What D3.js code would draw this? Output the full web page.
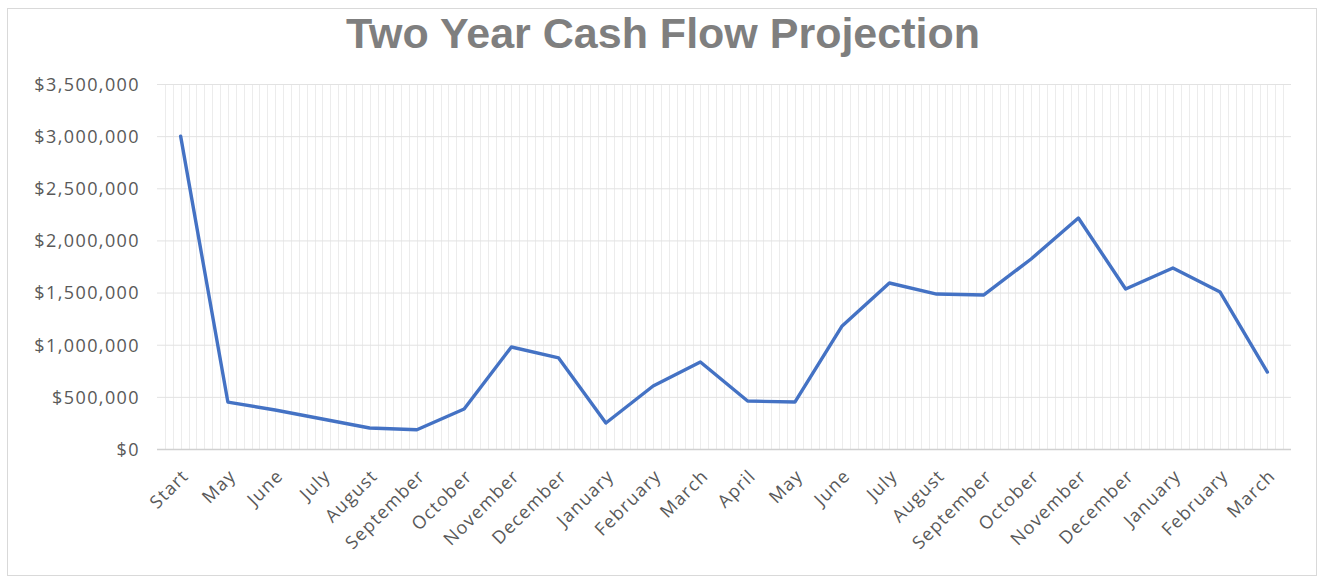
<!DOCTYPE html>
<html>
<head>
<meta charset="utf-8">
<script src="https://cdn.jsdelivr.net/npm/d3@7"></script>
<style>
  html, body { margin: 0; padding: 0; background: #fff; }
  svg { display: block; }
</style>
</head>
<body>
<svg id="chart" width="1321" height="578"></svg>
<script>
// Period labels along the horizontal axis
const periods = ["Start", "May", "June", "July", "August", "September", "October", "November",
  "December", "January", "February", "March", "April", "May", "June", "July", "August",
  "September", "October", "November", "December", "January", "February", "March"];

// Projected cash balance for each period
const cashBalance = [3000000, 450000, 374000, 288000, 201000, 185000, 384000, 978000,
  873000, 249000, 604000, 834000, 460000, 450000, 1180000, 1592000, 1486000,
  1477000, 1822000, 2215000, 1534000, 1736000, 1505000, 738000];

// Value axis tick values
const yTicks = [0, 500000, 1000000, 1500000, 2000000, 2500000, 3000000, 3500000];

const W = 1321, H = 578;
const plot = { left: 157, right: 1291, top: 84, bottom: 449 };
const labelFont = "Open Sans, sans-serif";

const svg = d3.select("#chart");

// Chart area frame
svg.append("rect")
  .attr("x", 7.5).attr("y", 8.5)
  .attr("width", 1309).attr("height", 567)
  .attr("fill", "#fff").attr("stroke", "#d9d9d9").attr("stroke-width", 1);

// Title
svg.append("text")
  .attr("x", 663).attr("y", 48)
  .attr("text-anchor", "middle")
  .attr("font-family", "Liberation Sans, Arial, sans-serif")
  .attr("font-weight", "bold")
  .attr("font-size", 43)
  .attr("fill", "#7f7f7f")
  .text("Two Year Cash Flow Projection");

const idx = d3.range(periods.length);
const x = d3.scaleBand().domain(idx).range([plot.left, plot.right]);
const xc = i => x(i) + x.bandwidth() / 2;
const y = d3.scaleLinear().domain([0, 3500000]).range([plot.bottom, plot.top]);

// Minor vertical gridlines (six per category)
const minor = d3.range(0, periods.length * 6 + 1).map(k => plot.left + k * x.bandwidth() / 6);
svg.append("g")
  .selectAll("line")
  .data(minor.slice(1, -1))
  .join("line")
  .attr("x1", d => Math.round(d) + 0.5).attr("x2", d => Math.round(d) + 0.5)
  .attr("y1", plot.top).attr("y2", plot.bottom)
  .attr("stroke", "#ececec").attr("stroke-width", 1);

// Horizontal gridlines from the value axis
const yAxis = d3.axisLeft(y)
  .tickValues(yTicks)
  .tickSize(-(plot.right - plot.left))
  .tickPadding(17)
  .tickFormat(d => "$" + d3.format(",")(d));

const gy = svg.append("g")
  .attr("transform", `translate(${plot.left},0)`)
  .call(yAxis);
gy.select(".domain").remove();
gy.selectAll(".tick line")
  .attr("stroke", d => d === 0 ? "#d0d0d0" : "#e2e2e2")
  .attr("stroke-width", d => d === 0 ? 1.5 : 1);
gy.selectAll(".tick text")
  .attr("fill", "#595959")
  .attr("font-family", labelFont)
  .attr("font-size", 18)
  .attr("letter-spacing", 1.4)
  .attr("dy", "0.35em");

// Category axis labels, rotated
const xAxis = d3.axisBottom(x)
  .tickSize(0)
  .tickFormat(i => periods[i]);
const gx = svg.append("g")
  .attr("transform", `translate(0,${plot.bottom})`)
  .call(xAxis);
gx.select(".domain").remove();
gx.selectAll(".tick text")
  .attr("fill", "#595959")
  .attr("font-family", labelFont)
  .attr("font-size", 18)
  .attr("letter-spacing", 1.2)
  .attr("text-anchor", "end")
  .attr("dy", 0)
  .attr("transform", "translate(7,26) rotate(-45)");

// Cash balance line
const line = d3.line()
  .x((d, i) => xc(i))
  .y(d => y(d));

svg.append("path")
  .datum(cashBalance)
  .attr("fill", "none")
  .attr("stroke", "#4472c4")
  .attr("stroke-width", 3.4)
  .attr("stroke-linejoin", "round")
  .attr("stroke-linecap", "round")
  .attr("d", line);
</script>
</body>
</html>
